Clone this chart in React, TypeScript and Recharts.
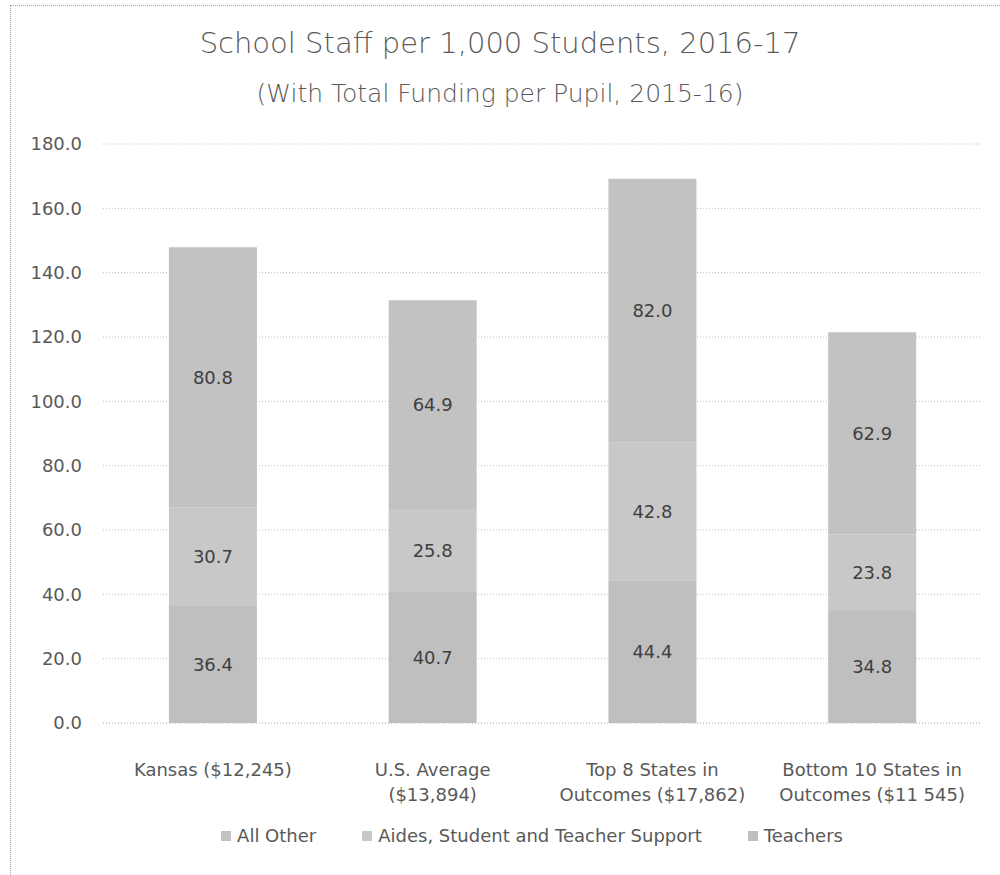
import { Bar, BarChart, CartesianGrid, LabelList, Legend, XAxis, YAxis } from "recharts";

const categories = [
  "Kansas ($12,245)",
  "U.S. Average\n($13,894)",
  "Top 8 States in\nOutcomes ($17,862)",
  "Bottom 10 States in\nOutcomes ($11 545)",
];
const teachers = [36.4, 40.7, 44.4, 34.8];
const aides = [30.7, 25.8, 42.8, 23.8];
const allOther = [80.8, 64.9, 82.0, 62.9];
const yTicks = [0, 20, 40, 60, 80, 100, 120, 140, 160, 180];

const COLORS = { allOther: "#c2c2c2", aides: "#c8c8c8", teachers: "#bfbfbf" };

const legendItems = [
  { name: "All Other", color: COLORS.allOther },
  { name: "Aides, Student and Teacher Support", color: COLORS.aides },
  { name: "Teachers", color: COLORS.teachers },
];

const data = categories.map((c, i) => ({
  name: c,
  teachers: teachers[i],
  aides: aides[i],
  allOther: allOther[i],
}));

const FONT = "'DejaVu Sans', sans-serif";
const TEXT = "#595959";

function CategoryTick({ x, y, payload }: any) {
  const lines = String(payload.value).split("\n");
  return (
    <text x={x} y={y} textAnchor="middle" fill={TEXT} fontSize={18} fontFamily={FONT}>
      {lines.map((l, i) => (
        <tspan key={i} x={x} dy={i === 0 ? 45 : 25}>{l}</tspan>
      ))}
    </text>
  );
}

function LegendRow() {
  return (
    <div style={{ display: "flex", justifyContent: "center", gap: 46, paddingLeft: 82, paddingTop: 4, fontFamily: FONT, fontSize: 18, color: TEXT }}>
      {legendItems.map((it) => (
        <span key={it.name} style={{ display: "flex", alignItems: "center", gap: 6 }}>
          <span style={{ width: 10, height: 10, background: it.color, display: "inline-block" }} />
          {it.name}
        </span>
      ))}
    </div>
  );
}

const labelProps = { position: "center" as const, fill: "#404040", fontSize: 18, fontFamily: FONT, formatter: (v: any) => Number(v).toFixed(1) };

export default function App() {
  return (
    <div style={{ position: "absolute", left: 0, top: 0, width: 1000, height: 875, overflow: "hidden", background: "#fff" }}>
      <div style={{ position: "absolute", left: 10, top: 5, width: 1010, height: 900, border: "1px dotted #a6a6a6" }} />
      <div style={{ position: "absolute", top: 26, width: 1000, textAlign: "center", fontFamily: FONT, fontSize: 29, fontWeight: 200, color: TEXT }}>
        School Staff per 1,000 Students, 2016-17
      </div>
      <div style={{ position: "absolute", top: 79, width: 1000, textAlign: "center", fontFamily: FONT, fontSize: 25, fontWeight: 200, color: TEXT }}>
        (With Total Funding per Pupil, 2015-16)
      </div>
      <BarChart
        width={1000}
        height={875}
        data={data}
        margin={{ top: 144, right: 18, left: 0, bottom: 18 }}
        barCategoryGap="30%"
      >
        <CartesianGrid vertical={false} stroke="#bfbfbf" strokeDasharray="1 2" />
        <XAxis
          dataKey="name"
          axisLine={{ stroke: "#bfbfbf", strokeDasharray: "1 2" }}
          tickLine={false}
          interval={0}
          height={98}
          tick={<CategoryTick />}
        />
        <YAxis
          domain={[0, 180]}
          ticks={yTicks}
          width={103}
          axisLine={false}
          tickLine={false}
          tickSize={0}
          tickMargin={21}
          tickFormatter={(v: number) => v.toFixed(1)}
          tick={{ fill: TEXT, fontSize: 18, fontFamily: FONT }}
        />
        <Legend verticalAlign="bottom" height={36} content={() => <LegendRow />} />
        <Bar dataKey="teachers" name="Teachers" stackId="s" fill={COLORS.teachers} isAnimationActive={false}>
          <LabelList dataKey="teachers" {...labelProps} />
        </Bar>
        <Bar dataKey="aides" name="Aides, Student and Teacher Support" stackId="s" fill={COLORS.aides} isAnimationActive={false}>
          <LabelList dataKey="aides" {...labelProps} />
        </Bar>
        <Bar dataKey="allOther" name="All Other" stackId="s" fill={COLORS.allOther} isAnimationActive={false}>
          <LabelList dataKey="allOther" {...labelProps} />
        </Bar>
      </BarChart>
    </div>
  );
}
